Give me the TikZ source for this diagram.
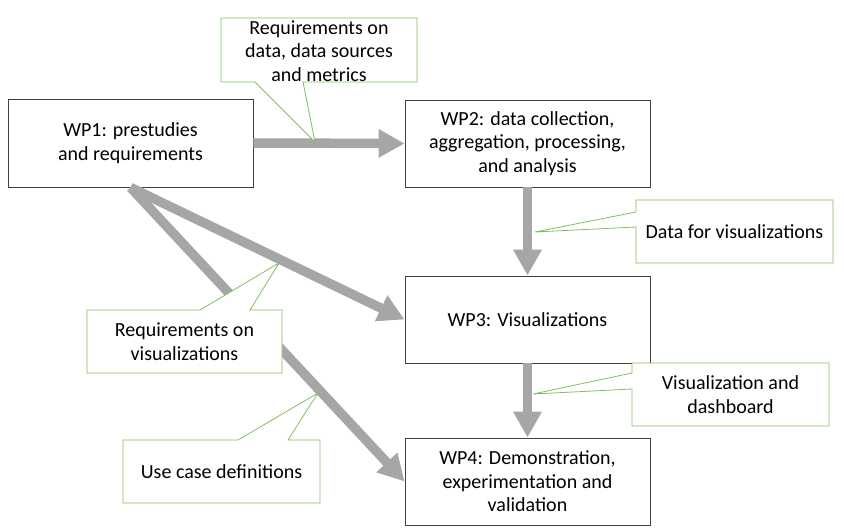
\documentclass[tikz,border=0pt]{standalone}
\usepackage{fontspec}
\setmainfont{Carlito}
\usetikzlibrary{arrows.meta}
\definecolor{arrgray}{RGB}{166,166,166}
\definecolor{callgreen}{RGB}{128,192,96}
\definecolor{boxline}{RGB}{64,64,64}
\begin{document}
\begin{tikzpicture}[x=1bp,y=-1bp,
  font=\fontsize{20bp}{23.5bp}\selectfont,
  wpbox/.style={draw=boxline,line width=0.9bp,fill=white,minimum width=245bp,minimum height=87bp,align=center,inner sep=0pt},
  bigarrow/.style={draw=arrgray,line width=9.5bp,-{Triangle[width=27bp,length=26bp]}},
  callout/.style={draw=callgreen,line width=0.8bp,fill=white},
  calltext/.style={align=center,inner sep=0pt}]
\useasboundingbox (0,0) rectangle (844,532);
% work packages
\node[wpbox,minimum height=88bp] (wp1) at (130.5,143) {WP1: prestudies\\and requirements};
\node[wpbox] (wp2) at (527.5,143.5) {WP2: data collection,\\aggregation, processing,\\and analysis};
\node[wpbox] (wp3) at (527.5,319.5) {WP3: Visualizations};
\node[wpbox] (wp4) at (527.5,481.5) {WP4: Demonstration,\\experimentation and\\validation};
% arrows
\draw[bigarrow] (wp1.east) -- (wp2.west);
\draw[bigarrow] (wp2.south) -- (wp3.north);
\draw[bigarrow] (wp3.south) -- (wp4.north);
\draw[bigarrow] (wp1.south) -- (wp3.west);
\draw[bigarrow] (wp1.south) -- (wp4.west);
% callouts
\draw[callout] (221,18) -- (417,18) -- (417,82) -- (303,82) -- (315,142) -- (255,82) -- (221,82) -- cycle;
\node[calltext] (c1) at (319,51) {Requirements on\\data, data sources\\and metrics};
\draw[callout] (636,200) -- (833,200) -- (833,263) -- (636,263) -- (636,227) -- (535,232) -- (636,212) -- cycle;
\node[calltext] (c2) at (734.5,231.5) {Data for visualizations};
\draw[callout] (632,363) -- (829,363) -- (829,426) -- (632,426) -- (632,389) -- (533,394) -- (632,373) -- cycle;
\node[calltext] (c3) at (730.5,394.5) {Visualization and\\dashboard};
\draw[callout] (87,310) -- (200,310) -- (279,263) -- (250,310) -- (282,310) -- (282,373) -- (87,373) -- cycle;
\node[calltext] (c4) at (184.5,341.5) {Requirements on\\visualizations};
\draw[callout] (123,440) -- (238,440) -- (318,393) -- (288,440) -- (320,440) -- (320,503) -- (123,503) -- cycle;
\node[calltext] (c5) at (221.5,471.5) {Use case definitions};
\end{tikzpicture}
\end{document}
